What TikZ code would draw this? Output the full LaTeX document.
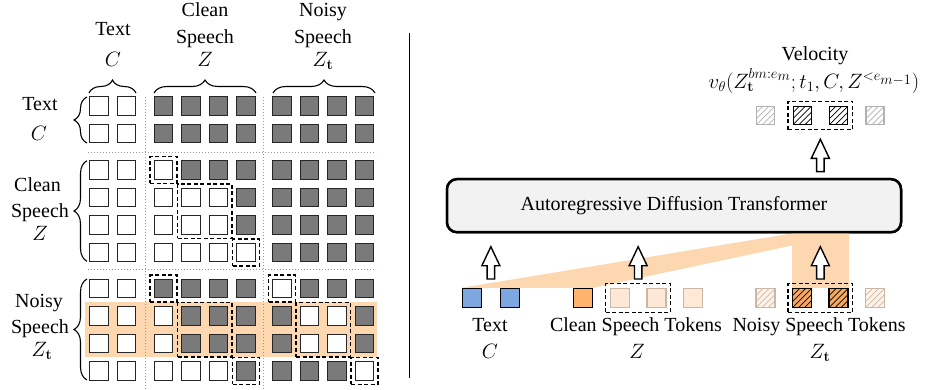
\documentclass[tikz,border=0pt]{standalone}
\usepackage[no-math]{fontspec}
\setmainfont{Liberation Serif}
\usetikzlibrary{fit,decorations.pathreplacing,calc}
\DeclareMathSizes{20}{20}{14}{14}
\DeclareMathSizes{21}{21}{15}{15}

\definecolor{mgray}{HTML}{7A7A7A}
\definecolor{bandor}{HTML}{FDD7B0}
\definecolor{cblue}{HTML}{7EA6E0}
\definecolor{corange}{HTML}{FFB46E}
\definecolor{clight}{HTML}{FFE8D6}
\definecolor{clightbd}{HTML}{C9B8A6}
\definecolor{nhatch}{HTML}{F6A95E}
\definecolor{boxgray}{HTML}{F2F2F2}
\definecolor{dotgray}{HTML}{9A9A9A}

\tikzset{
  cell/.style={draw=black!85, line width=1.3pt, minimum size=18.5pt, inner sep=0pt},
  cf0/.style={fill=white},
  cf1/.style={fill=mgray},
  sq/.style={line width=1.4pt, minimum size=19pt, inner sep=0pt},
  osq/.style={line width=1.3pt, minimum size=18pt, inner sep=0pt},
  hatch/.style={path picture={
    \foreach \k in {-30,-24,...,30}
      \draw[line width=0.7pt,#1] ([xshift=\k pt]path picture bounding box.south west) -- ++(30,-30);}},
  dbox/.style={draw=black, line width=1.3pt, dash pattern=on 4pt off 2.5pt, inner sep=3.5pt},
  sepdots/.style={draw=dotgray, line width=1pt, dash pattern=on 1pt off 2pt},
  brc/.style={decorate, decoration={brace, amplitude=13pt}, line width=1.1pt},
  lbl/.style={anchor=base, inner sep=0pt},
  uparr/.pic={\draw[line width=1.4pt, fill=white, line join=miter]
    (0,0) -- (9,19) -- (3.7,19) -- (3.7,32.3) -- (-3.7,32.3) -- (-3.7,19) -- (-9,19) -- cycle;}
}

\begin{document}
\begin{tikzpicture}[x=1pt, y=-1pt, font=\fontsize{20}{25}\selectfont]
\useasboundingbox (0,0) rectangle (934,389);

%----------------------------------------------------------------
% Attention mask (left half)
%----------------------------------------------------------------
\fill[bandor] (85,301.7) rectangle (376.7,356.7);

\draw[sepdots] (145,97) -- (145,389);
\draw[sepdots] (263.5,97) -- (263.5,389);
\draw[sepdots] (88,152) -- (376,152);
\draw[sepdots] (88,269.5) -- (376,269.5);

\foreach \y/\pat [count=\r] in {
  106/{0,0,1,1,1,1,1,1,1,1},
  133.5/{0,0,1,1,1,1,1,1,1,1},
  170/{0,0,0,1,1,1,1,1,1,1},
  197.5/{0,0,0,0,0,1,1,1,1,1},
  225/{0,0,0,0,0,1,1,1,1,1},
  252.5/{0,0,0,0,0,0,1,1,1,1},
  288.5/{0,0,1,1,1,1,0,1,1,1},
  316/{0,0,0,1,1,1,1,0,0,1},
  343.5/{0,0,0,1,1,1,1,0,0,1},
  371/{0,0,0,0,0,1,1,1,1,0}}{
  \foreach \v [count=\c] in \pat {
    \pgfmathsetmacro\xx{99+(\c-1)*27.5+(\c>2)*9.5+(\c>6)*8.5}
    \node[cell, cf\v] (m-\r-\c) at (\xx,\y) {};
  }
}

% current blocks
\node[dbox, fit=(m-3-3)] {};
\node[dbox, fit=(m-4-4)(m-5-5)] {};
\node[dbox, fit=(m-6-6)] {};
\node[dbox, fit=(m-7-3)] {};
\node[dbox, fit=(m-7-7)] {};
\node[dbox, fit=(m-8-4)(m-9-5)] {};
\node[dbox, fit=(m-8-8)(m-9-9)] {};
\node[dbox, fit=(m-10-6)] {};
\node[dbox, fit=(m-10-10)] {};

% column braces and labels
\draw[brc] (89,93) -- (136,93);
\draw[brc] (154,93) -- (256,93);
\draw[brc] (273,93) -- (375,93);

\node[lbl] (ct1) at (113,35) {Text};
\node[lbl] (ct2) at (113,66.7) {$C$};
\node[lbl] (cc1) at (205,16.7) {Clean};
\node[lbl] (cc2) at (205,43.3) {Speech};
\node[lbl] (cc3) at (205,66.7) {$Z$};
\node[lbl] (cn1) at (323,16.7) {Noisy};
\node[lbl] (cn2) at (323,43.3) {Speech};
\node[lbl] (cn3) at (323,66.7) {$Z_{\mathbf{t}}$};

% row braces and labels
\draw[brc] (87,143) -- (87,97);
\draw[brc] (87,261.3) -- (87,160.7);
\draw[brc] (87,380) -- (87,279);

\node[lbl] (rt1) at (40,110) {Text};
\node[lbl] (rt2) at (39,140) {$C$};
\node[lbl] (rc1) at (37.5,191.7) {Clean};
\node[lbl] (rc2) at (40,217) {Speech};
\node[lbl] (rc3) at (40,240) {$Z$};
\node[lbl] (rn1) at (39,307) {Noisy};
\node[lbl] (rn2) at (40,333.5) {Speech};
\node[lbl] (rn3) at (42,356.7) {$Z_{\mathbf{t}}$};

% divider
\draw[line width=1.2pt] (409.3,33) -- (409.3,378);

%----------------------------------------------------------------
% Model (right half)
%----------------------------------------------------------------
% input tokens
\node[sq, draw=black, fill=cblue] (tx1) at (471.7,298) {};
\node[sq, draw=black, fill=cblue] (tx2) at (510,298) {};
\node[sq, draw=black, fill=corange] (cs1) at (583,298) {};
\node[sq, draw=clightbd, fill=clight] (cs2) at (620,298) {};
\node[sq, draw=clightbd, fill=clight] (cs3) at (656.3,298) {};
\node[sq, draw=clightbd, fill=clight] (cs4) at (693,298) {};
\node[sq, draw=clightbd, fill=clight!55, hatch=clightbd] (ns1) at (765.5,298) {};
\node[sq, draw=black, fill=nhatch, hatch=black] (ns2) at (802.2,298) {};
\node[sq, draw=black, fill=nhatch, hatch=black] (ns3) at (838.5,298) {};
\node[sq, draw=clightbd, fill=clight!55, hatch=clightbd] (ns4) at (875,298) {};

% transformer block
\node[draw=black, line width=2.5pt, rounded corners=10pt, fill=boxgray,
      minimum width=454pt, minimum height=53pt] (adt) at (674,205.7) {};

% receptive field of the current noisy block
\fill[bandor] (tx1.north west) -- (cs1.north east)
  -- (ns3.north east |- adt.south) -- (ns2.north west |- adt.south) -- cycle;
\fill[bandor] (ns2.north west |- adt.south) rectangle (ns3.north east);

\node[draw=black, line width=2.5pt, rounded corners=10pt, fill=boxgray,
      minimum width=454pt, minimum height=53pt] at (adt) {Autoregressive Diffusion Transformer};

% redraw the tokens above the highlight
\node[sq, draw=black, fill=cblue] at (tx1) {};
\node[sq, draw=black, fill=corange] at (cs1) {};
\node[sq, draw=black, fill=nhatch, hatch=black] at (ns2) {};
\node[sq, draw=black, fill=nhatch, hatch=black] at (ns3) {};

\node[dbox, inner sep=4pt, fit=(cs2)(cs3)] (curz) {};
\node[dbox, inner sep=4pt, fit=(ns2)(ns3)] (curzt) {};

% input arrows
\pic at ($(tx1)!0.5!(tx2) + (0,-51.3)$) {uparr};
\pic at ($(cs2)!0.5!(cs3) + (0,-51.3)$) {uparr};
\pic at ($(ns2)!0.5!(ns3) + (0,-51.3)$) {uparr};

% outputs
\node[osq, draw=black!30, fill=white, hatch=black!30] (o1) at (765.5,115.5) {};
\node[osq, draw=black, fill=white, hatch=black] (o2) at (802.2,115.5) {};
\node[osq, draw=black, fill=white, hatch=black] (o3) at (838.5,115.5) {};
\node[osq, draw=black!30, fill=white, hatch=black!30] (o4) at (875,115.5) {};
\node[dbox, inner sep=4.5pt, fit=(o2)(o3)] (outbox) {};

\pic at ($(o2)!0.5!(o3) + (0,23.8)$) {uparr};

\node[lbl] (vel) at (815,60) {Velocity};
\node[lbl, font=\fontsize{21}{25}\selectfont] (vform) at (814,88)
  {$v_\theta(Z_{\mathbf{t}}^{bm:e_m};t_1,C,Z^{<e_{m-1}})$};

% token labels
\node[lbl] (lt1) at (490,331.7) {Text};
\node[lbl] (lt2) at (490,358.3) {$C$};
\node[lbl] (lc1) at (636,331.7) {Clean Speech Tokens};
\node[lbl] (lc2) at (637,358.3) {$Z$};
\node[lbl] (ln1) at (819,331.7) {Noisy Speech Tokens};
\node[lbl] (ln2) at (820,358.3) {$Z_{\mathbf{t}}$};
\end{tikzpicture}
\end{document}
